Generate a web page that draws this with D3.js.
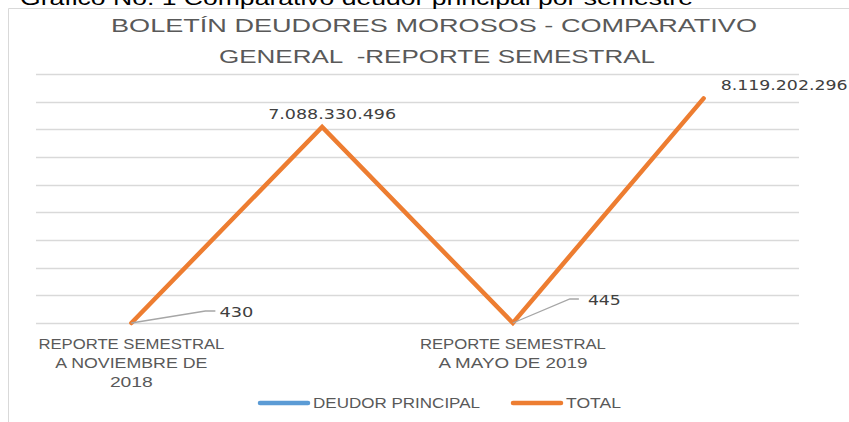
<!DOCTYPE html>
<html>
<head>
<meta charset="utf-8">
<script src="https://cdn.jsdelivr.net/npm/d3@7"></script>
<style>
  body { margin: 0; background: #fff; }
  svg { display: block; }
  text { font-family: "Liberation Sans Narrow", "Liberation Sans", sans-serif; }
  .lbl { font-family: "DejaVu Sans", sans-serif; }
</style>
</head>
<body>
<svg width="849" height="422"></svg>
<script>
// data
var categories = ["REPORTE SEMESTRAL A NOVIEMBRE DE 2018", "", "REPORTE SEMESTRAL A MAYO DE 2019", ""];
var tickLines = [["REPORTE SEMESTRAL", "A NOVIEMBRE DE", "2018"], [], ["REPORTE SEMESTRAL", "A MAYO DE 2019"], []];
var totalValues = [430, 7088330496, 445, 8119202296];
var deudorValues = [];   // the blue series draws nothing visible
var seriesNames = ["DEUDOR PRINCIPAL", "TOTAL"];
var yTicks = d3.range(0, 9e9 + 1, 1e9);

var svg = d3.select("svg"),
    width = +svg.attr("width"),
    height = +svg.attr("height");

var fmt = function(v) { return d3.format(",")(v).replace(/,/g, "."); };

// chart frame (only top/left edges are inside the picture)
svg.append("path")
    .attr("d", "M8.5," + height + "V8.5H" + width)
    .attr("fill", "none")
    .attr("stroke", "#d9d9d9")
    .attr("stroke-width", 1);

// caption cut off at the top
svg.append("text")
    .attr("x", 20).attr("y", 5)
    .attr("font-size", 20)
    .attr("fill", "#000")
    .attr("textLength", 673).attr("lengthAdjust", "spacingAndGlyphs")
    .style("font-family", "'Liberation Sans', sans-serif")
    .text("Gráfico No. 1 Comparativo deudor principal por semestre");

// title
var titleLines = [
  {t: "BOLETÍN DEUDORES MOROSOS - COMPARATIVO", x: 111, y: 32, w: 646},
  {t: "GENERAL  -REPORTE SEMESTRAL", x: 219, y: 63, w: 436}
];
svg.selectAll(".title").data(titleLines).enter().append("text")
    .attr("class", "title")
    .attr("x", function(d) { return d.x; })
    .attr("y", function(d) { return d.y; })
    .attr("font-size", 18.5)
    .attr("fill", "#595959")
    .attr("textLength", function(d) { return d.w; })
    .attr("lengthAdjust", "spacingAndGlyphs")
    .style("white-space", "pre")
    .text(function(d) { return d.t; });

var x = d3.scalePoint()
    .domain(d3.range(categories.length))
    .range([36, 799])
    .padding(0.5);

var y = d3.scaleLinear()
    .domain([0, 9e9])
    .range([323, 74]);

// gridlines
svg.append("g")
  .selectAll("line")
  .data(yTicks)
  .enter().append("line")
    .attr("x1", 36).attr("x2", 799)
    .attr("y1", function(d) { return Math.round(y(d)) + 0.5; })
    .attr("y2", function(d) { return Math.round(y(d)) + 0.5; })
    .attr("stroke", "#d9d9d9")
    .attr("stroke-width", 1.6);

// category labels (Excel skipped every other one)
var tickW = {"REPORTE SEMESTRAL": 186, "A NOVIEMBRE DE": 152, "2018": 43, "A MAYO DE 2019": 149};
var ticks = svg.append("g").selectAll("g")
    .data(tickLines)
    .enter().append("g")
    .attr("transform", function(d, i) { return "translate(" + x(i) + ",0)"; });
ticks.selectAll("text")
    .data(function(d) { return d; })
    .enter().append("text")
    .attr("y", function(d, j) { return 349 + j * 19; })
    .attr("text-anchor", "middle")
    .attr("font-size", 15)
    .attr("fill", "#595959")
    .attr("textLength", function(d) { return tickW[d]; })
    .attr("lengthAdjust", "spacingAndGlyphs")
    .text(function(d) { return d; });

// total line
var line = d3.line()
    .x(function(d, i) { return x(i); })
    .y(function(d) { return y(d); });

svg.append("path")
    .datum(deudorValues)
    .attr("fill", "none")
    .attr("stroke", "#5b9bd5")
    .attr("stroke-width", 4.5)
    .attr("d", line);

svg.append("path")
    .datum(totalValues)
    .attr("fill", "none")
    .attr("stroke", "#ed7d31")
    .attr("stroke-width", 4.5)
    .attr("stroke-linejoin", "miter")
    .attr("stroke-linecap", "round")
    .attr("d", line);

// data labels; small values get leader lines
var labelPos = [
  {dx: 88, dy: -6, w: 34, leader: [[74, -12], [84, -12]]},
  {dx: -54, dy: -8, w: 128},
  {dx: 75, dy: -18, w: 33, leader: [[57, -24], [66, -24]]},
  {dx: 17, dy: -8, w: 127}
];

svg.append("g").selectAll("path")
    .data(totalValues.filter(function(d, i) { return labelPos[i].leader; }))
    .enter().append("path")
    .attr("fill", "none")
    .attr("stroke", "#a6a6a6")
    .attr("stroke-width", 1.3)
    .attr("d", function(d) {
      var i = totalValues.indexOf(d), px = x(i), py = y(d);
      var pts = [[px, py]].concat(labelPos[i].leader.map(function(p) { return [px + p[0], py + p[1]]; }));
      return d3.line()(pts);
    });

svg.append("g").selectAll("text")
    .data(totalValues)
    .enter().append("text")
    .attr("class", "lbl")
    .attr("x", function(d, i) { return x(i) + labelPos[i].dx; })
    .attr("y", function(d, i) { return y(d) + labelPos[i].dy; })
    .attr("font-size", 14)
    .attr("fill", "#404040")
    .attr("textLength", function(d, i) { return labelPos[i].w; })
    .attr("lengthAdjust", "spacingAndGlyphs")
    .text(function(d) { return fmt(d); });

// legend
var legend = [
  {name: seriesNames[0], color: "#5b9bd5", x: 258, w: 167},
  {name: seriesNames[1], color: "#ed7d31", x: 511, w: 55}
];
var lg = svg.append("g").selectAll("g")
    .data(legend)
    .enter().append("g")
    .attr("transform", function(d) { return "translate(" + d.x + ",403)"; });
lg.append("line")
    .attr("x1", 2).attr("x2", 50)
    .attr("stroke", function(d) { return d.color; })
    .attr("stroke-width", 4.5)
    .attr("stroke-linecap", "round");
lg.append("text")
    .attr("x", 55).attr("y", 5)
    .attr("font-size", 15)
    .attr("fill", "#595959")
    .attr("textLength", function(d) { return d.w; })
    .attr("lengthAdjust", "spacingAndGlyphs")
    .text(function(d) { return d.name; });
</script>
</body>
</html>
